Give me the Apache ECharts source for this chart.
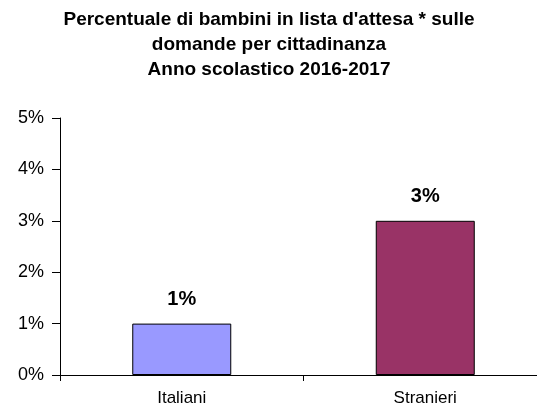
<!DOCTYPE html>
<html>
<head>
<meta charset="utf-8">
<script src="https://cdn.jsdelivr.net/npm/echarts@6/dist/echarts.min.js"></script>
<style>
  html, body { margin: 0; padding: 0; background: #fff; }
  #chart { width: 537px; height: 409px; }
</style>
</head>
<body>
<div id="chart"></div>
<script>
var categories = ['Italiani', 'Stranieri'];
var values = [1, 3];
var barColors = ['#9999FF', '#993366'];
var yTicks = [0, 1, 2, 3, 4, 5];

var chart = echarts.init(document.getElementById('chart'));
var option = {
  animation: false,
  title: {
    text: "Percentuale di bambini in lista d'attesa * sulle\ndomande per cittadinanza\nAnno scolastico 2016-2017",
    left: 264,
    top: 2,
    textAlign: 'center',
    textStyle: {
      fontFamily: 'Liberation Sans',
      fontSize: 19,
      fontWeight: 'bold',
      color: '#000',
      lineHeight: 25
    }
  },
  grid: {
    left: 60,
    top: 118,
    width: 487,
    height: 257,
    outerBoundsMode: 'none',
    containLabel: false
  },
  xAxis: {
    type: 'category',
    data: categories,
    axisLine: { lineStyle: { color: '#000', width: 1 } },
    axisTick: { show: true, length: 6, lineStyle: { color: '#000' } },
    axisLabel: {
      color: '#000',
      fontFamily: 'Liberation Sans',
      fontSize: 17,
      margin: 15
    }
  },
  yAxis: {
    type: 'value',
    min: yTicks[0],
    max: yTicks[yTicks.length - 1],
    interval: 1,
    splitLine: { show: false },
    axisLine: { show: true, lineStyle: { color: '#000', width: 1 } },
    axisTick: { show: true, length: 8, lineStyle: { color: '#000' } },
    axisLabel: {
      color: '#000',
      fontFamily: 'Liberation Sans',
      fontSize: 18,
      margin: 16,
      formatter: '{value}%'
    }
  },
  series: [{
    type: 'bar',
    barWidth: 99,
    data: values.map(function (v, i) {
      return {
        value: v,
        itemStyle: { color: barColors[i], borderColor: '#000', borderWidth: 1 }
      };
    }),
    label: {
      show: true,
      position: 'top',
      distance: 14,
      formatter: '{c}%',
      color: '#000',
      fontFamily: 'Liberation Sans',
      fontSize: 20,
      fontWeight: 'bold'
    }
  }]
};
chart.setOption(option);
</script>
</body>
</html>
